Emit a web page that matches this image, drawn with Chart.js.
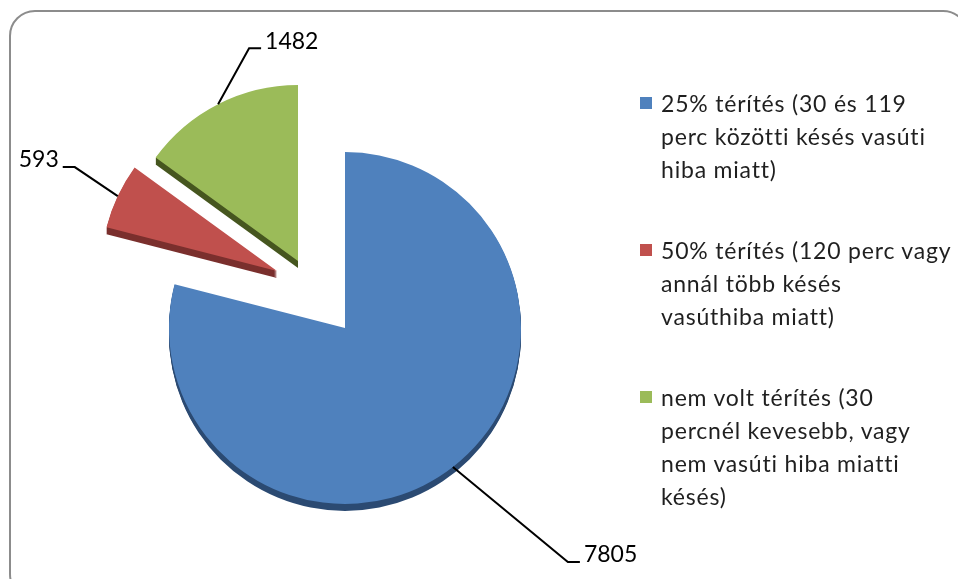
<!DOCTYPE html>
<html>
<head>
<meta charset="utf-8">
<script src="https://cdn.jsdelivr.net/npm/chart.js@4"></script>
<style>
  html, body { margin: 0; padding: 0; background: #fff; overflow: hidden; }
  #wrap { position: relative; width: 958px; height: 579px; font-family: Lato, "Open Sans", sans-serif; }
  #frame { position: absolute; left: 9px; top: 10px; width: 960px; height: 590px;
           border: 2px solid #8c8c8c; border-radius: 26px; box-sizing: border-box; }
  #myChart { position: absolute; left: 0; top: 0; }
  #legend { position: absolute; left: 640px; top: 87px; color: #1f1f1f; font-size: 23px; line-height: 33px; letter-spacing: 0.8px; }
  .item { position: relative; padding-left: 21px; margin-bottom: 48px; white-space: nowrap; }
  .box { position: absolute; left: 0; top: 10px; width: 12px; height: 12px; }
</style>
</head>
<body>
<div id="wrap">
  <div id="frame"></div>
  <canvas id="myChart" width="958" height="579"></canvas>
  <div id="legend"></div>
</div>
<script>
const categories = [
    ['25% térítés (30 és 119', 'perc közötti késés vasúti', 'hiba miatt)'],
    ['50% térítés (120 perc vagy', 'annál több késés', 'vasúthiba miatt)'],
    ['nem volt térítés (30', 'percnél kevesebb, vagy', 'nem vasúti hiba miatti', 'késés)']
];
const values = [7805, 593, 1482];

const faceColors = ['#4f81bd', '#c0504d', '#9bbb59'];
const rimColors = ['#2b4a72', '#7a2f2d', '#46561f'];
// exploded slice shift (px) and leader elbow (relative to anchor)
const explode = [[0, 0], [-68, -57], [-47, -67]];
const elbows = [[115, 95], [-43, -29], [31, -56]];
const depth = 7;

// legend
const legendEl = document.getElementById('legend');
categories.forEach((lines, i) => {
    let div = document.createElement('div');
    div.className = 'item';
    div.innerHTML = '<span class="box" style="background:' + faceColors[i] + '"></span>' + lines.join('<br>');
    legendEl.appendChild(div);
});

const explodePlugin = {
    id: 'explode',
    afterDatasetsUpdate(chart) {
        chart.getDatasetMeta(0).data.forEach((arc, i) => {
            arc.x += explode[i][0];
            arc.y += explode[i][1];
        });
    },
    beforeDatasetsDraw(chart) {
        const ctx = chart.ctx;
        ctx.save();
        chart.getDatasetMeta(0).data.forEach((arc, i) => {
            ctx.fillStyle = rimColors[i];
            for (let k = 1; k <= depth; k++) {
                ctx.beginPath();
                ctx.moveTo(arc.x, arc.y + k);
                ctx.arc(arc.x, arc.y + k, arc.outerRadius, arc.startAngle, arc.endAngle);
                ctx.closePath();
                ctx.fill();
            }
        });
        ctx.restore();
    },
    afterDatasetsDraw(chart) {
        const ctx = chart.ctx;
        ctx.save();
        ctx.strokeStyle = '#000';
        ctx.lineWidth = 2;
        ctx.fillStyle = '#000';
        ctx.font = '23px Lato';
        ctx.textBaseline = 'middle';
        chart.getDatasetMeta(0).data.forEach((arc, i) => {
            let mid = (arc.startAngle + arc.endAngle) / 2;
            let ax = arc.x + Math.cos(mid) * arc.outerRadius;
            let ay = arc.y + Math.sin(mid) * arc.outerRadius;
            let ex = ax + elbows[i][0];
            let ey = ay + elbows[i][1];
            let dir = elbows[i][0] >= 0 ? 1 : -1;
            let hx = ex + dir * 12;
            ctx.beginPath();
            ctx.moveTo(ax, ay);
            ctx.lineTo(ex, ey);
            ctx.lineTo(hx, ey);
            ctx.stroke();
            ctx.textAlign = dir > 0 ? 'left' : 'right';
            ctx.fillText(String(values[i]), hx + dir * 4, ey - 7);
        });
        ctx.restore();
    }
};

const ctx = document.getElementById('myChart').getContext('2d');

let chart = new Chart(ctx, {
    type: 'pie',
    data: {
        labels: categories,
        datasets: [{
            data: values,
            backgroundColor: faceColors,
            borderWidth: 0
        }]
    },
    options: {
        responsive: false,
        animation: false,
        radius: 176,
        layout: { padding: { left: 0, right: 268, top: 77, bottom: 0 } },
        plugins: {
            legend: { display: false },
            tooltip: { enabled: false }
        }
    },
    plugins: [explodePlugin]
});
</script>
</body>
</html>
